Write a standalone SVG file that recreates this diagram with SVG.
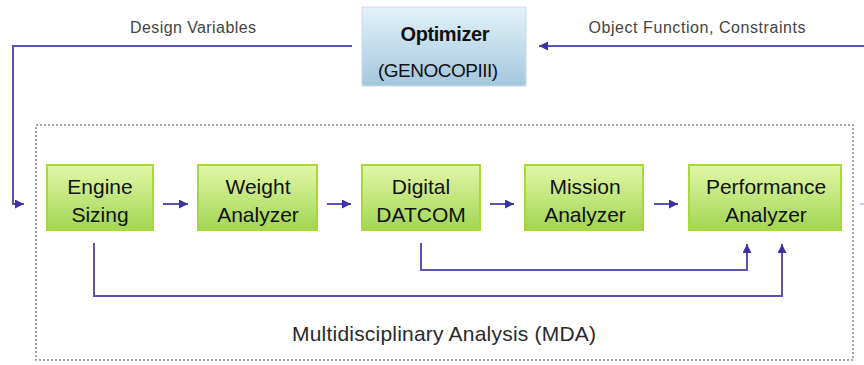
<svg xmlns="http://www.w3.org/2000/svg" width="864" height="365" viewBox="0 0 864 365">
<defs>
<linearGradient id="gGreen" x1="0" y1="0" x2="0" y2="1">
<stop offset="0" stop-color="#e2f7a8"/>
<stop offset="1" stop-color="#a2d653"/>
</linearGradient>
<linearGradient id="gBlue" x1="0" y1="0" x2="0" y2="1">
<stop offset="0" stop-color="#e3f3fb"/>
<stop offset="1" stop-color="#a3c6dc"/>
</linearGradient>
<marker id="ah" viewBox="0 0 10 10" refX="10" refY="5" markerWidth="9" markerHeight="9" markerUnits="userSpaceOnUse" orient="auto">
<path d="M0,0 L10,5 L0,10 z" fill="#3a33a0"/>
</marker>
<style>
.node rect{fill:url(#gGreen);stroke:#a8d83a;stroke-width:2}
.node text{font-family:"Liberation Sans",Arial,sans-serif;font-size:21px;fill:#111;text-anchor:middle}
.lbl{font-family:"Liberation Sans",Arial,sans-serif;font-size:16px;fill:#444;text-anchor:middle}
.con{fill:none;stroke:#5a52b4;stroke-width:2}
.arr{marker-end:url(#ah)}
</style>
</defs>
<rect x="36" y="125" width="817" height="235" fill="none" stroke="#8a8a8a" stroke-width="1.5" stroke-dasharray="2,2"/>
<g id="optimizer">
<rect x="362" y="7" width="164" height="79" fill="url(#gBlue)" stroke="#c5dce9" stroke-width="1"/>
<text x="445" y="41" font-family="'Liberation Sans',Arial,sans-serif" font-size="20" font-weight="bold" fill="#111" text-anchor="middle" textLength="89">Optimizer</text>
<text x="438" y="77" font-family="'Liberation Sans',Arial,sans-serif" font-size="19" fill="#111" text-anchor="middle" textLength="120">(GENOCOPIII)</text>
</g>
<g id="engine" class="node"><rect x="47" y="165" width="106" height="65"/><text x="100" y="194">Engine</text><text x="100" y="222">Sizing</text></g>
<g id="weight" class="node"><rect x="198" y="165" width="119" height="65"/><text x="258" y="194">Weight</text><text x="258" y="222">Analyzer</text></g>
<g id="datcom" class="node"><rect x="362" y="165" width="118" height="65"/><text x="421" y="194">Digital</text><text x="421" y="222">DATCOM</text></g>
<g id="mission" class="node"><rect x="525" y="165" width="118" height="65"/><text x="585" y="194">Mission</text><text x="585" y="222">Analyzer</text></g>
<g id="performance" class="node"><rect x="689" y="165" width="152" height="65"/><text x="766" y="194">Performance</text><text x="766" y="222">Analyzer</text></g>
<g id="connectors">
<polyline class="con arr" points="352,46 13,46 13,204 24,204"/>
<line class="con arr" x1="864" y1="46" x2="539" y2="46"/>
<line class="con arr" x1="163" y1="204" x2="188" y2="204"/>
<line class="con arr" x1="327" y1="204" x2="351" y2="204"/>
<line class="con arr" x1="490" y1="204" x2="514" y2="204"/>
<line class="con arr" x1="654" y1="204" x2="678" y2="204"/>
<polyline class="con arr" points="421,243 421,270 747,270 747,244"/>
<polyline class="con arr" points="94,243 94,296 782,296 782,244"/>
<line x1="860" y1="204" x2="864" y2="204" stroke="#b8b5dc" stroke-width="1.5"/>
</g>
<text class="lbl" x="193" y="33" textLength="126">Design Variables</text>
<text class="lbl" x="697" y="33" textLength="217">Object Function, Constraints</text>
<text x="444" y="341" font-family="'Liberation Sans',Arial,sans-serif" font-size="21" fill="#2a2a2a" text-anchor="middle" textLength="304">Multidisciplinary Analysis (MDA)</text>
</svg>
